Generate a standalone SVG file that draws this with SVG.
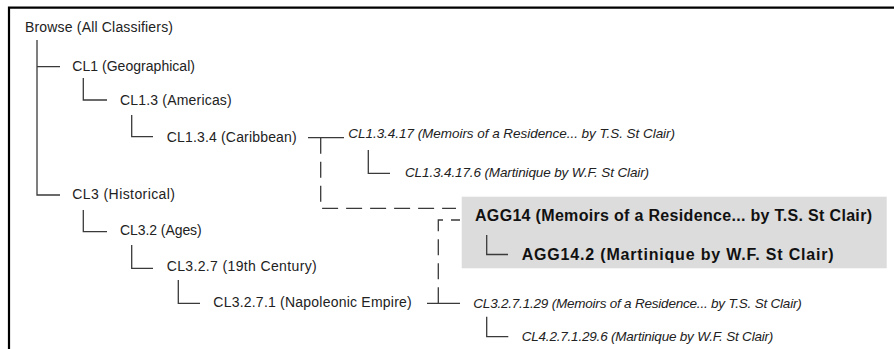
<svg xmlns="http://www.w3.org/2000/svg" width="894" height="349" viewBox="0 0 894 349">
<style>
  text { font-family: "Liberation Sans", Arial, sans-serif; fill: #222; }
  .n { font-size: 14px; }
  .i { font-size: 13.5px; font-style: italic; }
  .b { font-size: 16px; font-weight: bold; fill: #111; }
  .ln { fill: none; stroke: #3a3a3a; stroke-width: 1.3; }
  .dash { fill: none; stroke: #3a3a3a; stroke-width: 1.3; stroke-dasharray: 16 8; }
  .frame { fill: none; stroke: #000; stroke-width: 2.2; }
</style>
<rect width="894" height="349" fill="#fff"/>
<path class="frame" d="M9,349 V7.7 H894"/>
<rect id="highlight" x="461.7" y="196.7" width="425" height="71.6" fill="#dcdcdc"/>
<g id="connectors">
  <path class="ln" d="M37,40 V195 H60 M37,66.7 H60"/>
  <path class="ln" d="M83.3,78 V100 H107"/>
  <path class="ln" d="M131.7,115 V136.7 H153"/>
  <path class="ln" d="M83.3,210 V231.7 H107"/>
  <path class="ln" d="M131.7,245 V268.3 H153"/>
  <path class="ln" d="M178.3,280 V303.3 H200"/>
  <path class="ln" d="M308,137.7 H344"/>
  <path class="dash" d="M320.7,137.7 V208.3 H456"/>
  <path class="ln" d="M368.3,150 V173.3 H390"/>
  <path class="ln" d="M427,303.3 H460"/>
  <path class="dash" d="M438.3,303.3 V220 H460"/>
  <path class="ln" d="M486.7,235 V254.5 H508"/>
  <path class="ln" d="M486.7,316.7 V336.7 H508.3"/>
</g>
<g id="browse"><text class="n" x="25" y="32" textLength="148">Browse (All Classifiers)</text></g>
<g id="cl1"><text class="n" x="72.3" y="71" textLength="122.7">CL1 (Geographical)</text></g>
<g id="cl1-3"><text class="n" x="120" y="105" textLength="111.7">CL1.3 (Americas)</text></g>
<g id="cl1-3-4"><text class="n" x="166.7" y="141.5" textLength="130">CL1.3.4 (Caribbean)</text></g>
<g id="cl1-3-4-17"><text class="i" x="348.3" y="138.3" textLength="326.7">CL1.3.4.17 (Memoirs of a Residence... by T.S. St Clair)</text></g>
<g id="cl1-3-4-17-6"><text class="i" x="405" y="177" textLength="244">CL1.3.4.17.6 (Martinique by W.F. St Clair)</text></g>
<g id="cl3"><text class="n" x="72.3" y="198.5" textLength="102.7">CL3 (Historical)</text></g>
<g id="cl3-2"><text class="n" x="120" y="234.5" textLength="81.7">CL3.2 (Ages)</text></g>
<g id="cl3-2-7"><text class="n" x="166.7" y="271" textLength="150">CL3.2.7 (19th Century)</text></g>
<g id="cl3-2-7-1"><text class="n" x="213.3" y="306.5" textLength="198.4">CL3.2.7.1 (Napoleonic Empire)</text></g>
<g id="agg14"><text class="b" x="475" y="221" textLength="397">AGG14 (Memoirs of a Residence... by T.S. St Clair)</text></g>
<g id="agg14-2"><text class="b" x="521.7" y="259.5" textLength="312">AGG14.2 (Martinique by W.F. St Clair)</text></g>
<g id="cl3-2-7-1-29"><text class="i" x="473.3" y="307.5" textLength="328.4">CL3.2.7.1.29 (Memoirs of a Residence... by T.S. St Clair)</text></g>
<g id="cl4-2-7-1-29-6"><text class="i" x="521.7" y="341" textLength="251.6">CL4.2.7.1.29.6 (Martinique by W.F. St Clair)</text></g>
</svg>
